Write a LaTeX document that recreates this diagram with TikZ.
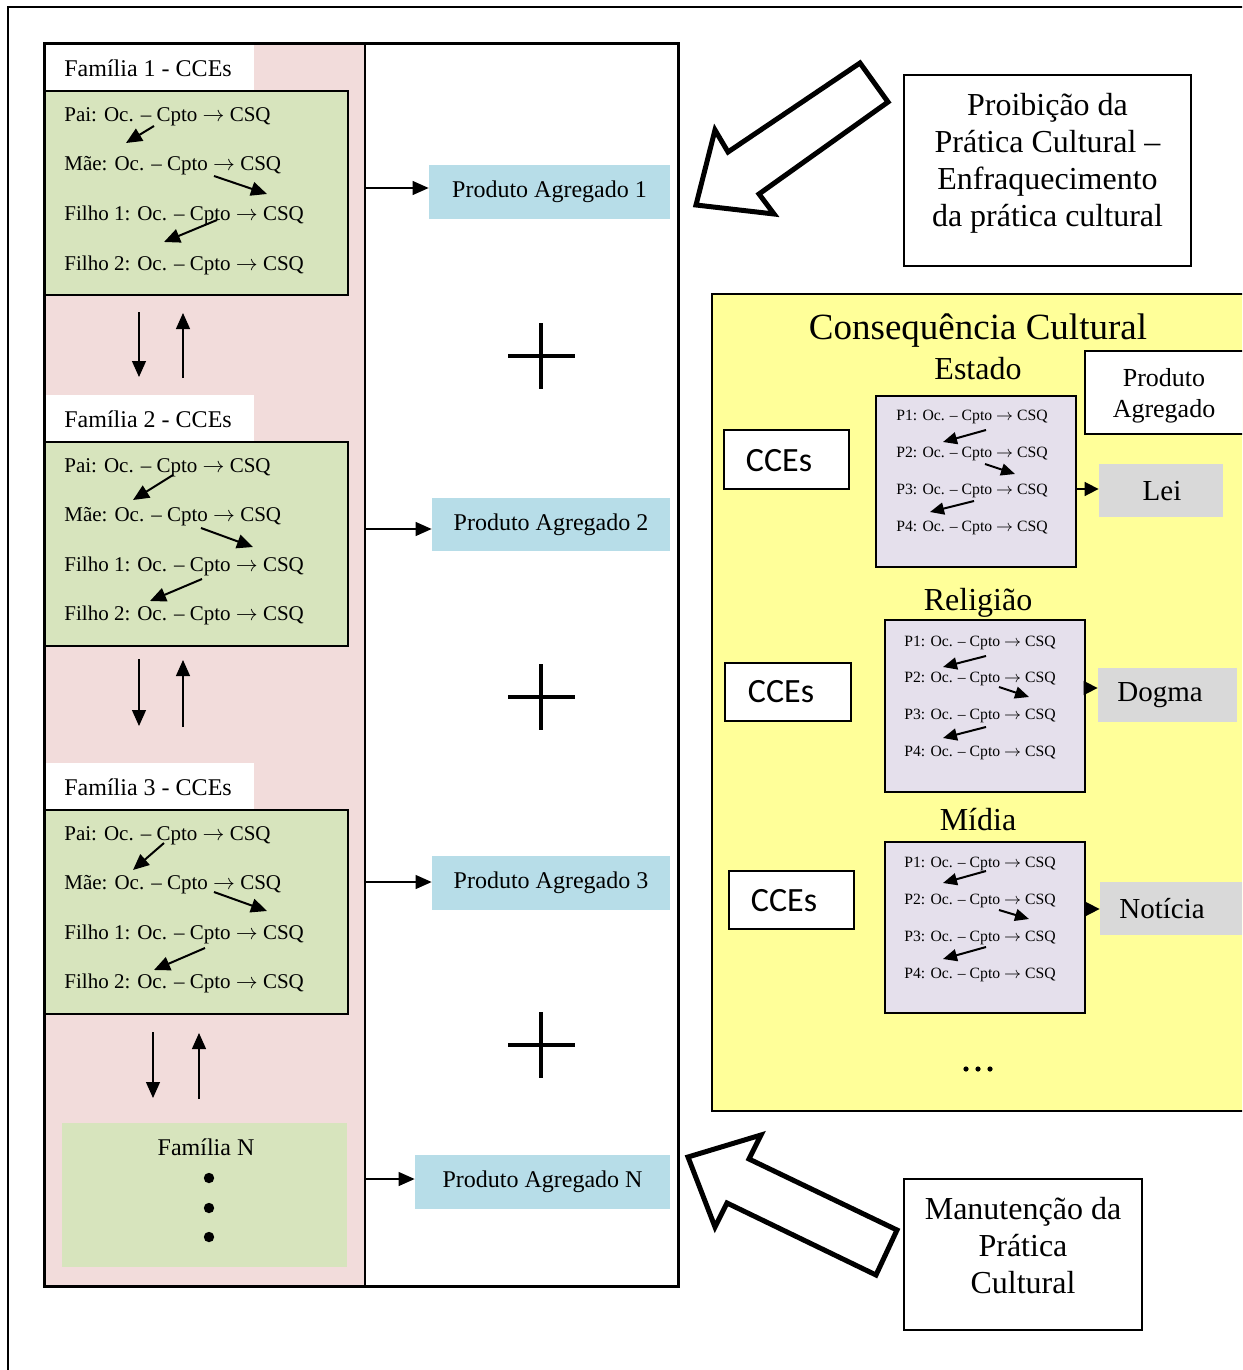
\documentclass[tikz,border=0pt]{standalone}
\usepackage{fontspec}
\setmainfont{Liberation Serif}
\newfontfamily\carlitofont{Carlito}
\usetikzlibrary{arrows.meta}
\newcommand\myarr{\ensuremath{\rightarrow}}
\definecolor{pinkbg}{HTML}{F2DCDB}
\definecolor{greenbg}{HTML}{D7E4BD}
\definecolor{bluebg}{HTML}{B7DDE8}
\definecolor{yellowbg}{HTML}{FFFF99}
\definecolor{lavbg}{HTML}{E5E0EC}
\definecolor{graybg}{HTML}{D9D9D9}
\begin{document}
\begin{tikzpicture}[x=0.5pt,y=-0.5pt,
  famrow/.style={anchor=west,inner sep=0pt,font=\fontsize{10.5}{13}\selectfont},
  famtitle/.style={anchor=west,inner sep=0pt,font=\fontsize{12}{14}\selectfont},
  prow/.style={inner sep=0pt,font=\fontsize{7.85}{10}\selectfont},
  greenbox/.style={draw,line width=1pt,fill=greenbg,inner sep=0pt},
  pabox/.style={fill=bluebg,inner sep=0pt,font=\fontsize{12}{14}\selectfont},
  lavbox/.style={draw,line width=1pt,fill=lavbg,inner sep=0pt},
  graybox/.style={fill=graybg,inner sep=0pt},
  ccebox/.style={draw,line width=1pt,fill=white,inner sep=0pt},
  ccetext/.style={inner sep=0pt,font=\carlitofont\fontsize{17}{20}\selectfont},
  grtext/.style={inner sep=0pt,font=\fontsize{14.5}{17}\selectfont},
  sectitle/.style={inner sep=0pt,font=\fontsize{16}{19}\selectfont},
  bigtext/.style={inner sep=0pt,align=center,font=\fontsize{16}{18.5}\selectfont},
  famarr/.style={line width=1pt,-{Triangle[length=8pt,width=7pt]}},
  vertarr/.style={line width=0.6pt,-{Triangle[length=8pt,width=7pt]}},
  paarr/.style={line width=0.6pt,-{Triangle[length=8pt,width=7pt]}},
  smallarr/.style={line width=1pt,-{Triangle[length=7pt,width=6pt]}},
  grarr/.style={line width=0.8pt,-{Triangle[length=7pt,width=7pt]}},
  plus/.style={line width=2pt},
  hollow/.style={line width=2.5pt,fill=white,line join=miter}
]
\path[use as bounding box,clip] (0,0) rectangle (1242,1370);
\fill[white] (0,0) rectangle (1242,1370);
% outer frame
\draw[line width=0.8pt] (1250,7) -- (8,7) -- (8,1380);

% left panel background
\fill[pinkbg] (44,44) rectangle (365,1286);
\fill[white] (44,44) rectangle (254,91);
\fill[white] (44,395) rectangle (254,442);
\fill[white] (44,763) rectangle (254,810);

% family 1
\node[famtitle] (t1) at (64,68) {Família 1 - CCEs};
\node[greenbox,minimum width=151.5pt,minimum height=102pt] (g1) at (196.5,193) {};
\node[famrow] (r11) at (64,117) {Pai: Oc. – Cpto \myarr{} CSQ};
\node[famrow] (r12) at (64,166) {Mãe: Oc. – Cpto \myarr{} CSQ};
\node[famrow] (r13) at (64,215) {Filho 1: Oc. – Cpto \myarr{} CSQ};
\node[famrow] (r14) at (64,265) {Filho 2: Oc. – Cpto \myarr{} CSQ};
\draw[famarr] (154,126) -- (126,143);
\draw[famarr] (214,176) -- (267,194);
\draw[famarr] (217,220) -- (164,242);

% family 2
\node[famtitle] (t2) at (64,419) {Família 2 - CCEs};
\node[greenbox,minimum width=151.5pt,minimum height=102pt] (g2) at (196.5,544) {};
\node[famrow] (r21) at (64,468) {Pai: Oc. – Cpto \myarr{} CSQ};
\node[famrow] (r22) at (64,517) {Mãe: Oc. – Cpto \myarr{} CSQ};
\node[famrow] (r23) at (64,566) {Filho 1: Oc. – Cpto \myarr{} CSQ};
\node[famrow] (r24) at (64,615) {Filho 2: Oc. – Cpto \myarr{} CSQ};
\draw[famarr] (173,475) -- (133,500);
\draw[famarr] (201,528) -- (253,547);
\draw[famarr] (202,579) -- (150,601);

% family 3
\node[famtitle] (t3) at (64,787) {Família 3 - CCEs};
\node[greenbox,minimum width=151.5pt,minimum height=102pt] (g3) at (196.5,912) {};
\node[famrow] (r31) at (64,836) {Pai: Oc. – Cpto \myarr{} CSQ};
\node[famrow] (r32) at (64,885) {Mãe: Oc. – Cpto \myarr{} CSQ};
\node[famrow] (r33) at (64,934) {Filho 1: Oc. – Cpto \myarr{} CSQ};
\node[famrow] (r34) at (64,983) {Filho 2: Oc. – Cpto \myarr{} CSQ};
\draw[famarr] (164,843) -- (133,870);
\draw[famarr] (214,892) -- (267,911);
\draw[famarr] (205,948) -- (154,970);

% family N
\node[fill=greenbg,inner sep=0pt,minimum width=142.5pt,minimum height=72pt] (gN) at (204.5,1195) {};
\node[famtitle,anchor=center] (tN) at (206,1147) {Família N};
\fill (209,1178) circle (2.6pt);
\fill (209,1208) circle (2.6pt);
\fill (209,1237) circle (2.6pt);

% vertical arrows between families
\draw[vertarr] (139,312) -- (139,377);
\draw[vertarr] (183,378) -- (183,313);
\draw[vertarr] (139,659) -- (139,726);
\draw[vertarr] (183,727) -- (183,660);
\draw[vertarr] (153,1032) -- (153,1098);
\draw[vertarr] (199,1099) -- (199,1033);

% produtos agregados
\node[pabox,minimum width=120.5pt,minimum height=27pt] (pa1) at (549.5,192) {Produto Agregado 1};
\node[pabox,minimum width=119pt,minimum height=26.5pt] (pa2) at (551,524.5) {Produto Agregado 2};
\node[pabox,minimum width=119pt,minimum height=27pt] (pa3) at (551,883) {Produto Agregado 3};
\node[pabox,minimum width=127.5pt,minimum height=27pt] (paN) at (542.5,1182) {Produto Agregado N};
\coordinate (d1) at (365,188);
\coordinate (d2) at (365,529);
\coordinate (d3) at (365,882);
\coordinate (dN) at (365,1179);
\draw[paarr] (d1) -- (d1 -| pa1.west);
\draw[paarr] (d2) -- (d2 -| pa2.west);
\draw[paarr] (d3) -- (d3 -| pa3.west);
\draw[paarr] (dN) -- (dN -| paN.west);

% plus signs
\foreach \yy in {356,697,1045}{
  \draw[plus] (508,\yy) -- (575,\yy);
  \draw[plus] (541,\yy-33) -- (541,\yy+33);
}

% left panel borders
\draw[line width=1pt] (365,44) -- (365,1286);
\draw[line width=1.5pt] (44,44) rectangle (678,1286);

% hollow arrows
\draw[hollow] (696,205) -- (715,130) -- (728,152) -- (860,63) -- (888,102) -- (759,194) -- (774,214) -- cycle;
\draw[hollow] (688,1157) -- (761,1135) -- (749,1159) -- (897,1230) -- (876,1275) -- (727,1203) -- (715,1227) -- cycle;

% side boxes
\node[draw,line width=0.8pt,fill=white,minimum width=143.5pt,minimum height=95.5pt] (prob) at (1047.5,170.5) {};
\node[bigtext] (probt) at (1047.5,163.5) {Proibição da\\Prática Cultural –\\Enfraquecimento\\da prática cultural};
\node[draw,line width=0.8pt,fill=white,minimum width=119pt,minimum height=75.5pt] (manu) at (1023,1254.5) {};
\node[bigtext] (manut) at (1023,1246) {Manutenção da\\Prática\\Cultural};

% yellow panel
\fill[yellowbg] (712,294) rectangle (1260,1111);
\draw[line width=1pt] (1260,294) -- (712,294) -- (712,1111) -- (1260,1111);
\node[inner sep=0pt,font=\fontsize{18.5}{22}\selectfont] (cc) at (978,331) {Consequência Cultural};
\node[sectitle] (est) at (978,369) {Estado};
\node[sectitle] (rel) at (978,603) {Religião};
\node[sectitle] (mid) at (978,820) {Mídia};
\node[draw,line width=1pt,fill=white,inner sep=0pt,minimum width=85pt,minimum height=41.5pt] (pag) at (1170,392.5) {};
\node[inner sep=0pt,align=center,font=\fontsize{13}{15.5}\selectfont] (pagt) at (1164,395.5) {Produto\\Agregado};

% Estado
\node[ccebox,minimum width=62.5pt,minimum height=29.5pt] (c1) at (786.5,459.5) {};
\node[ccetext] at (779,461) {CCEs};
\node[lavbox,minimum width=100pt,minimum height=85.5pt] (L1) at (976,481.5) {};
\node[prow] (p11) at (972,417) {P1: Oc. – Cpto \myarr{} CSQ};
\node[prow] (p12) at (972,454) {P2: Oc. – Cpto \myarr{} CSQ};
\node[prow] (p13) at (972,491) {P3: Oc. – Cpto \myarr{} CSQ};
\node[prow] (p14) at (972,528) {P4: Oc. – Cpto \myarr{} CSQ};
\draw[smallarr] (986,430) -- (943,442);
\draw[smallarr] (985,464) -- (1015,474);
\draw[smallarr] (974,501) -- (930,512);
\node[graybox,minimum width=62pt,minimum height=26.5pt] (lei) at (1161,490.5) {};
\node[grtext] at (1162,491) {Lei};
\coordinate (e1) at (1076,489);
\draw[grarr] (e1) -- (e1 -| lei.west);

% Religiao
\node[ccebox,minimum width=63pt,minimum height=29pt] (c2) at (788,692) {};
\node[ccetext] at (781,692) {CCEs};
\node[lavbox,minimum width=100pt,minimum height=86pt] (L2) at (985,706) {};
\node[prow] (p21) at (980,643) {P1: Oc. – Cpto \myarr{} CSQ};
\node[prow] (p22) at (980,679) {P2: Oc. – Cpto \myarr{} CSQ};
\node[prow] (p23) at (980,716) {P3: Oc. – Cpto \myarr{} CSQ};
\node[prow] (p24) at (980,753) {P4: Oc. – Cpto \myarr{} CSQ};
\draw[smallarr] (986,656) -- (943,667);
\draw[smallarr] (999,687) -- (1029,697);
\draw[smallarr] (986,727) -- (943,738);
\node[graybox,minimum width=69.5pt,minimum height=27pt] (dog) at (1167.5,695) {};
\node[grtext] at (1160,695) {Dogma};
\coordinate (e2) at (1085,688);
\draw[grarr] (e2) -- (e2 -| dog.west);

% Midia
\node[ccebox,minimum width=62.5pt,minimum height=29pt] (c3) at (791.5,900) {};
\node[ccetext] at (784,901) {CCEs};
\node[lavbox,minimum width=100pt,minimum height=85.5pt] (L3) at (985,927.5) {};
\node[prow] (p31) at (980,864) {P1: Oc. – Cpto \myarr{} CSQ};
\node[prow] (p32) at (980,901) {P2: Oc. – Cpto \myarr{} CSQ};
\node[prow] (p33) at (980,938) {P3: Oc. – Cpto \myarr{} CSQ};
\node[prow] (p34) at (980,975) {P4: Oc. – Cpto \myarr{} CSQ};
\draw[smallarr] (986,871) -- (943,883);
\draw[smallarr] (999,910) -- (1029,919);
\draw[smallarr] (986,947) -- (943,959);
\node[graybox,minimum width=71pt,minimum height=26.5pt] (not) at (1171,908.5) {};
\node[grtext] at (1162,909) {Notícia};
\coordinate (e3) at (1085,909);
\draw[grarr] (e3) -- (e3 -| not.west);

% ellipsis
\fill (966,1069) circle (1.3pt);
\fill (978,1069) circle (1.3pt);
\fill (990,1069) circle (1.3pt);
\end{tikzpicture}
\end{document}
